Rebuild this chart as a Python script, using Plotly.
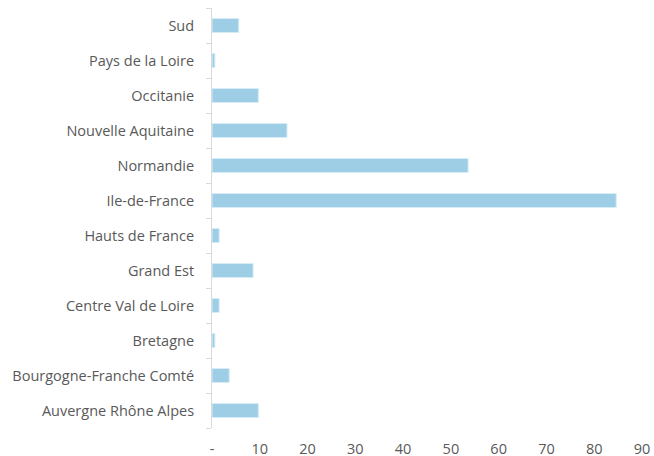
import plotly.graph_objects as go

regions = [
    "Auvergne Rhône Alpes",
    "Bourgogne-Franche Comté",
    "Bretagne",
    "Centre Val de Loire",
    "Grand Est",
    "Hauts de France",
    "Ile-de-France",
    "Normandie",
    "Nouvelle Aquitaine",
    "Occitanie",
    "Pays de la Loire",
    "Sud",
]
values = [9.7, 3.6, 0.6, 1.5, 8.6, 1.5, 84.6, 53.6, 15.7, 9.7, 0.6, 5.6]

x_tickvals = [0, 10, 20, 30, 40, 50, 60, 70, 80, 90]
x_ticktext = ["-", "10", "20", "30", "40", "50", "60", "70", "80", "90"]

fig = go.Figure(go.Bar(
    x=values,
    y=regions,
    orientation="h",
    marker=dict(color="#9ECEE6", line=dict(color="#D6ECF7", width=1)),
))

fig.update_layout(
    width=654,
    height=456,
    margin=dict(l=212, r=12, t=8, b=28),
    plot_bgcolor="white",
    paper_bgcolor="white",
    font=dict(family="Open Sans", size=14.5, color="#595959"),
    bargap=0.6,
    showlegend=False,
    xaxis=dict(
        range=[0, 90],
        tickvals=x_tickvals,
        ticktext=x_ticktext,
        showgrid=False,
        zeroline=False,
        showline=False,
        ticks="",
        ticklabelstandoff=10,
        automargin=False,
    ),
    yaxis=dict(
        showgrid=False,
        showline=True,
        linecolor="#D9D9D9",
        linewidth=1,
        ticks="outside",
        tickson="boundaries",
        ticklen=5,
        tickcolor="#D9D9D9",
        ticklabelstandoff=14,
        automargin=False,
    ),
)

# drop the page's default body margin so the chart sits at the window corner
fig.write_html(
    "out.html",
    config={"displayModeBar": False},
    post_script="document.body.style.margin='0';",
)
